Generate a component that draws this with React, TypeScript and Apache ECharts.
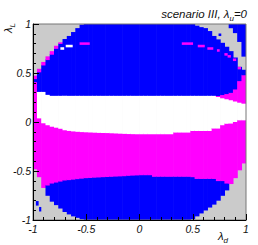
import React, { useEffect, useRef } from "react";
import * as echarts from "echarts";

// Column centres of the scan grid (lambda_d), cell half-width 0.02
const xCenters = [
  -0.98, -0.94, -0.9, -0.86, -0.82, -0.78, -0.74, -0.7, -0.66, -0.62,
  -0.58, -0.54, -0.5, -0.46, -0.42, -0.38, -0.34, -0.3, -0.26, -0.22,
  -0.18, -0.14, -0.1, -0.06, -0.02, 0.02, 0.06, 0.1, 0.14, 0.18,
  0.22, 0.26, 0.3, 0.34, 0.38, 0.42, 0.46, 0.5, 0.54, 0.58,
  0.62, 0.66, 0.7, 0.74, 0.78, 0.82, 0.86, 0.9, 0.94, 0.98,
];

// Per-column region boundaries in lambda_L
const grayTop = [
  -0.48, -0.56, -0.67, -0.75, -0.81, -0.845, -0.88, -0.915, -0.94, -0.96,
  -0.975, -0.99, -1, -1, -1, -1, -1, -1, -1, -1,
  -1, -1, -1, -1, -1, -1, -1, -1, -1, -1,
  -1, -1, -1, -1, -1, -1, -1, -0.99, -0.96, -0.93,
  -0.9, -0.87, -0.84, -0.8, -0.75, -0.695, -0.63, -0.57, -0.49, -0.42,
];
const lowBlueTop = [
  -0.48, -0.56, -0.67, -0.645, -0.625, -0.615, -0.605, -0.595, -0.59, -0.585,
  -0.58, -0.575, -0.57, -0.568, -0.565, -0.563, -0.56, -0.558, -0.556, -0.554,
  -0.552, -0.55, -0.546, -0.544, -0.542, -0.54, -0.54, -0.54, -0.556, -0.556,
  -0.556, -0.556, -0.556, -0.556, -0.556, -0.556, -0.556, -0.56, -0.578, -0.578,
  -0.578, -0.578, -0.578, -0.6, -0.6, -0.625, -0.63, -0.57, -0.49, -0.42,
];
const magTop = [
  0.41, 0.04, -0.01, -0.03, -0.045, -0.055, -0.066, -0.08, -0.088, -0.093,
  -0.097, -0.1, -0.102, -0.104, -0.106, -0.108, -0.109, -0.11, -0.112, -0.114,
  -0.116, -0.118, -0.12, -0.121, -0.122, -0.122, -0.122, -0.122, -0.122, -0.122,
  -0.122, -0.122, -0.122, -0.105, -0.105, -0.105, -0.105, -0.089, -0.089, -0.089,
  -0.089, -0.089, -0.064, -0.064, -0.03, -0.015, -0.013, 0.003, 0.02, 0.02,
];
const whiteTop = [
  0.41, 0.31, 0.31, 0.28, 0.27, 0.27, 0.27, 0.27, 0.27, 0.27,
  0.27, 0.27, 0.27, 0.27, 0.27, 0.27, 0.27, 0.27, 0.27, 0.27,
  0.27, 0.27, 0.27, 0.27, 0.27, 0.27, 0.27, 0.27, 0.27, 0.27,
  0.27, 0.27, 0.27, 0.27, 0.27, 0.27, 0.27, 0.27, 0.27, 0.27,
  0.27, 0.27, 0.27, 0.258, 0.245, 0.235, 0.225, 0.212, 0.2, 0.19,
];
const rightMagTop = [
  0.41, 0.31, 0.31, 0.28, 0.27, 0.27, 0.27, 0.27, 0.27, 0.27,
  0.27, 0.27, 0.27, 0.27, 0.27, 0.27, 0.27, 0.27, 0.27, 0.27,
  0.27, 0.27, 0.27, 0.27, 0.27, 0.27, 0.27, 0.27, 0.27, 0.27,
  0.27, 0.27, 0.27, 0.27, 0.27, 0.27, 0.27, 0.27, 0.27, 0.27,
  0.27, 0.27, 0.27, 0.268, 0.278, 0.288, 0.3, 0.335, 0.42, 0.48,
];
const blueTop = [
  0.44, 0.51, 0.58, 0.635, 0.69, 0.75, 0.8, 0.845, 0.875, 0.915,
  0.955, 0.99, 1, 1, 1, 1, 1, 1, 1, 1,
  1, 1, 1, 1, 1, 1, 1, 1, 1, 1,
  1, 1, 1, 1, 1, 1, 1, 1, 0.98, 0.965,
  0.955, 0.925, 0.875, 0.84, 0.805, 0.765, 0.72, 0.655, 0.56, 0.53,
];
const edgeMagTop = [
  0.47, 0.54, 0.61, 0.667, 0.72, 0.775, 0.81, 0.845, 0.875, 0.915,
  0.955, 0.99, 1, 1, 1, 1, 1, 1, 1, 1,
  1, 1, 1, 1, 1, 1, 1, 1, 1, 1,
  1, 1, 1, 1, 1, 1, 1, 1, 0.98, 0.965,
  0.955, 0.925, 0.875, 0.84, 0.805, 0.765, 0.72, 0.655, 0.56, 0.53,
];
const islandBottom = [
  1, 1, 1, 1, 1, 1, 1, 1, 1, 1,
  1, 1, 1, 1, 1, 1, 1, 1, 1, 1,
  1, 1, 1, 1, 1, 1, 1, 1, 1, 1,
  1, 1, 1, 1, 1, 1, 1, 1, 1, 1,
  1, 1, 1, 1, 1, 1, 0.96, 0.91, 0.82, 0.67,
];

// Isolated cells: [x0, x1, y0, y1, colourIndex]
const extraCells = [
  [0.4, 0.5, 0.79, 0.81, 2],
  [0.55, 0.61, 0.765, 0.785, 2],
  [0.64, 0.69, 0.74, 0.76, 2],
  [0.73, 0.75, 0.72, 0.74, 2],
  [0.8, 0.825, 0.68, 0.7, 2],
  [0.83, 0.855, 0.66, 0.68, 2],
  [0.88, 0.905, 0.625, 0.645, 2],
  [0.925, 0.95, 0.54, 0.56, 2],
  [-0.56, -0.47, 0.79, 0.81, 2],
  [-0.69, -0.63, 0.765, 0.785, 3],
  [-0.74, -0.71, 0.74, 0.76, 3],
  [-0.97, -0.95, -0.85, -0.81, 1],
  [-0.94, -0.925, -0.91, -0.87, 1],
  [0.745, 0.765, 0.88, 0.9, 1],
];

const PALETTE = ["#cbcbcb", "#0000ff", "#ff00ff", "#ffffff"];
const FONT = "Liberation Sans, Arial, Helvetica, sans-serif";
const HALF = 0.02;

function buildCells(): number[][] {
  const cells: number[][] = [[-1, 1, -1, 1, 0]];
  xCenters.forEach((xc, k) => {
    const x0 = xc - HALF;
    const x1 = xc + HALF;
    const segs: [number, number, number][] = [
      [grayTop[k], lowBlueTop[k], 1],
      [lowBlueTop[k], magTop[k], 2],
      [magTop[k], whiteTop[k], 3],
      [whiteTop[k], rightMagTop[k], 2],
      [rightMagTop[k], blueTop[k], 1],
      [blueTop[k], edgeMagTop[k], 2],
      [islandBottom[k], 1, 1],
    ];
    segs.forEach(([y0, y1, c]) => {
      if (y1 > y0) cells.push([x0, x1, y0, y1, c]);
    });
  });
  extraCells.forEach((c) => cells.push(c));
  return cells;
}

const rich = {
  a: { fontSize: 11.5, fontStyle: "italic", fontFamily: FONT, fill: "#111", lineHeight: 16 },
  s: { fontSize: 8, fontStyle: "italic", fontFamily: FONT, fill: "#111", lineHeight: 8, verticalAlign: "bottom" },
};

export default function App() {
  const ref = useRef<HTMLDivElement>(null);
  useEffect(() => {
    if (!ref.current) return;
    const chart = echarts.init(ref.current, undefined, { renderer: "svg" });
    const axisCommon = {
      type: "value",
      min: -1,
      max: 1,
      interval: 0.5,
      z: 10,
      axisLine: { show: true, onZero: false, lineStyle: { color: "#000", width: 1 } },
      axisTick: { show: true, inside: true, length: 6, lineStyle: { color: "#000", width: 1 } },
      minorTick: { show: true, splitNumber: 5, length: 3, lineStyle: { color: "#000", width: 1 } },
      splitLine: { show: false },
      axisLabel: {
        fontFamily: FONT,
        fontStyle: "italic",
        fontSize: 10.5,
        color: "#111",
        margin: 2,
        showMinLabel: true,
        showMaxLabel: true,
      },
    };
    chart.setOption({
      animation: false,
      grid: {
        left: 33,
        top: 24,
        width: 213,
        height: 196,
        show: true,
        z: 10,
        borderColor: "#777",
        borderWidth: 1,
        backgroundColor: "transparent",
      },
      xAxis: { ...axisCommon, axisLabel: { ...axisCommon.axisLabel, margin: 3 } },
      yAxis: { ...axisCommon },
      series: [
        {
          type: "custom",
          clip: true,
          encode: { x: [0, 1], y: [2, 3] },
          data: buildCells(),
          renderItem: (params: any, api: any) => {
            const a = api.coord([api.value(0), api.value(3)]);
            const b = api.coord([api.value(1), api.value(2)]);
            const idx = api.value(4);
            const pad = idx === 0 ? 0 : 0.3;
            return {
              type: "rect",
              shape: {
                x: a[0] - pad,
                y: a[1] - pad,
                width: b[0] - a[0] + 2 * pad,
                height: b[1] - a[1] + 2 * pad,
              },
              style: { fill: PALETTE[idx], lineWidth: 0 },
            };
          },
        },
      ],
      graphic: [
        {
          type: "text",
          x: 247,
          y: 14.3,
          style: {
            text: "{a|scenario III, λ}{s|u}{a|=0}",
            align: "right",
            verticalAlign: "middle",
            textAlign: "right",
            textVerticalAlign: "middle",
            rich,
          },
        },
        {
          type: "text",
          x: 8,
          y: 23,
          rotation: Math.PI / 2,
          style: {
            text: "{a|λ}{s|L}",
            align: "right",
            verticalAlign: "middle",
            textAlign: "right",
            textVerticalAlign: "middle",
            rich,
          },
        },
        {
          type: "text",
          x: 228,
          y: 236,
          style: {
            text: "{a|λ}{s|d}",
            align: "right",
            verticalAlign: "middle",
            textAlign: "right",
            textVerticalAlign: "middle",
            rich,
          },
        },
      ],
    });
    return () => chart.dispose();
  }, []);
  return <div ref={ref} style={{ position: "absolute", left: 0, top: 0, width: 258, height: 245 }} />;
}
